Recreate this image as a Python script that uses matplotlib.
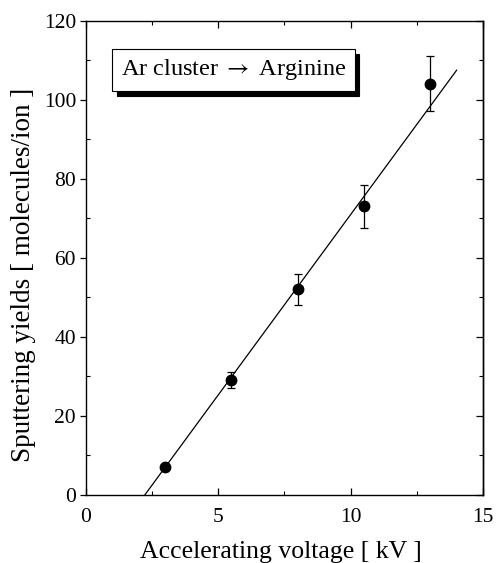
import matplotlib.pyplot as plt
import matplotlib.patches as mpatches
import numpy as np

plt.rcParams['font.family'] = ['Liberation Serif', 'DejaVu Serif']
plt.rcParams['mathtext.fontset'] = 'stix'

# data
voltage = [3.0, 5.5, 8.0, 10.5, 13.0]
yields = [7.0, 29.0, 52.0, 73.0, 104.0]
err_low = [0.0, 2.0, 4.0, 5.5, 6.8]
err_high = [0.0, 2.0, 4.0, 5.5, 7.0]
fit_x = [2.23, 14.0]
fit_y = [0.0, 107.5]

fig = plt.figure(figsize=(4.96, 5.63), dpi=100)
ax = fig.add_axes([0.173, 0.121, 0.801, 0.842])

ax.plot(fit_x, fit_y, color='black', lw=0.9)
ax.errorbar(voltage, yields, yerr=[err_low, err_high], fmt='o', color='black',
            ms=7.5, elinewidth=0.9, capsize=3, capthick=0.9)

ax.set_xlim(0, 15)
ax.set_ylim(0, 120)
ax.set_xticks([0, 5, 10, 15])
ax.set_xticks(np.arange(0, 15.1, 2.5), minor=True)
ax.set_yticks(np.arange(0, 121, 20))
ax.set_yticks(np.arange(0, 121, 10), minor=True)

# bottom/top: inward ticks
ax.tick_params(axis='x', which='both', direction='in', top=True, labelsize=15.5, pad=9.5)
ax.tick_params(axis='x', which='major', length=5, width=0.9)
ax.tick_params(axis='x', which='minor', length=3, width=0.8)
# left: major ticks point out, minor ticks in
ax.tick_params(axis='y', which='major', direction='out', length=4, width=0.9,
               labelsize=15.5, pad=3, right=False)
ax.tick_params(axis='y', which='minor', direction='in', length=3, width=0.8, right=False)
# right: inward ticks, no labels
sec = ax.secondary_yaxis('right')
sec.set_yticks(np.arange(0, 121, 20))
sec.set_yticks(np.arange(0, 121, 10), minor=True)
sec.tick_params(which='both', direction='in', labelright=False)
sec.tick_params(which='major', length=5, width=0.9)
sec.tick_params(which='minor', length=3, width=0.8)

for s in ax.spines.values():
    s.set_linewidth(1.0)
sec.spines['right'].set_linewidth(1.0)

ax.set_xlabel('Accelerating voltage [ kV ]', fontsize=18.5)
ax.xaxis.set_label_coords(0.49, -0.097)
ax.set_ylabel('Sputtering yields [ molecules/ion ]', fontsize=19.5)
ax.yaxis.set_label_coords(-0.125, 0.464)

label = 'Ar cluster $\\rightarrow$ Arginine'
t = ax.text(0.088, 0.897, label, transform=ax.transAxes, fontsize=17.5, color='black',
            va='center', ha='left',
            bbox=dict(boxstyle='square,pad=0.35', fc='white', ec='black', lw=0.8))
t.set_zorder(5)

# shadow behind the label box
fig.canvas.draw()
shadow = mpatches.Shadow(t.get_bbox_patch(), 3.5, -3.5, facecolor='black',
                         edgecolor='black', alpha=1)
shadow.set_zorder(4)
ax.add_artist(shadow)

fig.savefig('out.png', dpi=100)
